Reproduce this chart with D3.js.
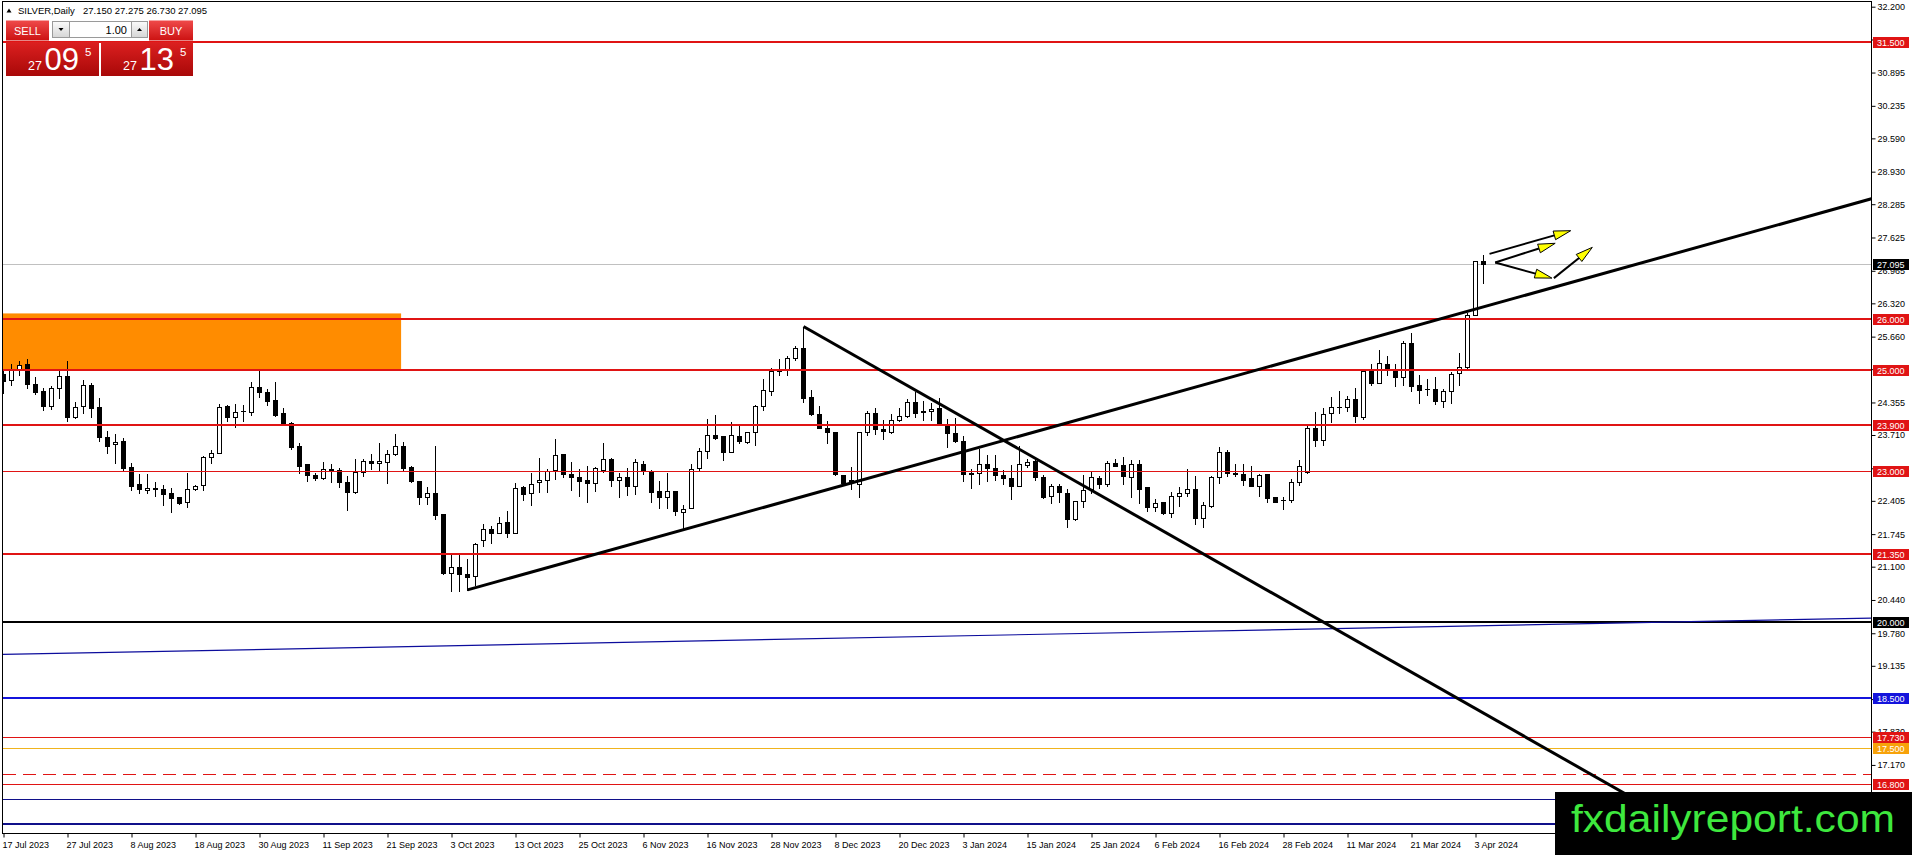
<!DOCTYPE html>
<html><head><meta charset="utf-8">
<script src="https://cdn.jsdelivr.net/npm/d3@7"></script>
<style>
html,body{margin:0;padding:0;background:#fff;overflow:hidden}
svg{display:block}
</style></head><body>
<svg id="c" width="1912" height="855"></svg>
<script>
// ---------------- DATA ----------------
const symbolName = "SILVER,Daily";
const headerOHLC = ["27.150", "27.275", "26.730", "27.095"];
const lotSize = "1.00";
const sellQuote = ["27", "09", "5"];
const buyQuote = ["27", "13", "5"];
const watermark = "fxdailyreport.com";

const opens = [24.92,24.80,25.02,25.12,24.72,24.58,24.29,24.64,24.87,24.07,24.29,24.70,24.26,23.68,23.53,23.59,23.07,22.74,22.61,22.65,
22.64,22.56,22.48,22.38,22.64,22.71,23.27,23.36,24.29,24.07,24.19,24.17,24.66,24.56,24.41,24.14,23.94,23.50,23.13,22.92,
22.86,23.03,23.01,22.77,22.58,22.97,23.20,23.15,23.18,23.34,23.50,23.07,22.80,22.48,22.57,22.14,20.98,21.10,20.95,20.92,
21.63,21.84,21.77,21.99,21.77,22.68,22.57,22.77,22.81,23.01,23.33,22.93,22.87,22.81,22.75,23.01,23.24,22.81,22.88,22.70,
23.13,22.98,22.60,22.49,22.60,22.19,22.26,23.05,23.39,23.71,23.69,23.38,23.69,23.58,23.76,24.29,24.59,24.98,24.99,25.23,
25.43,24.46,24.12,23.84,23.76,22.92,22.82,22.74,23.76,24.14,23.82,23.76,24.00,24.09,24.37,24.19,24.19,24.24,23.91,23.74,
23.60,22.95,22.95,23.13,23.05,22.92,22.85,22.70,23.11,23.20,22.87,22.50,22.70,22.56,22.04,22.41,22.64,22.85,22.74,23.15,
23.12,22.87,23.13,22.68,22.29,22.38,22.16,22.51,22.56,22.64,22.06,22.31,22.87,23.38,22.95,22.94,22.85,22.69,22.93,22.48,
22.43,22.42,22.78,22.98,23.84,23.62,24.14,24.27,24.27,24.42,24.07,24.98,24.75,25.11,24.98,24.85,25.53,24.70,24.63,24.62,
24.39,24.59,24.93,25.05,26.08,27.150];
const highs = [25.00,25.11,25.18,25.22,24.85,24.65,24.68,24.99,25.18,24.36,24.80,24.74,24.44,23.79,23.72,23.66,23.15,22.94,22.94,22.77,
22.72,22.65,22.48,22.95,22.72,23.30,23.41,24.33,24.31,24.33,24.31,24.77,24.97,24.62,24.77,24.24,23.96,23.55,23.13,22.96,
23.17,23.13,23.05,22.90,23.23,23.23,23.34,23.55,23.42,23.73,23.57,23.09,22.80,22.67,23.49,22.15,21.35,21.35,21.25,21.57,
21.94,21.90,22.09,22.20,22.75,22.70,22.95,23.26,23.03,23.64,23.33,23.17,23.03,23.09,23.07,23.55,23.26,22.95,23.05,23.23,
23.19,23.02,22.79,22.95,22.60,22.32,23.13,23.45,24.02,24.11,23.69,23.96,23.89,23.76,24.31,24.83,25.03,25.21,25.28,25.48,
25.86,24.60,24.29,23.98,23.76,22.92,23.08,23.76,24.19,24.24,24.01,24.12,24.24,24.43,24.57,24.39,24.34,24.44,24.03,24.04,
23.69,23.03,23.43,23.32,23.32,23.02,23.12,23.50,23.23,23.23,22.92,22.74,22.74,22.64,22.41,22.92,22.99,22.90,23.20,23.24,
23.27,23.22,23.22,22.68,22.44,22.38,22.58,22.68,23.03,22.89,22.39,22.89,23.47,23.42,23.14,23.13,23.10,22.94,22.93,22.48,
22.48,22.84,23.22,23.88,24.17,24.24,24.47,24.58,24.48,24.64,25.00,25.12,25.40,25.28,25.11,25.58,25.73,24.90,24.83,24.85,
24.62,24.95,25.33,26.12,27.16,27.275];
const lows = [24.55,24.70,24.89,24.65,24.52,24.21,24.23,24.45,23.98,24.04,24.14,24.07,23.60,23.35,23.16,23.00,22.61,22.57,22.57,22.50,
22.33,22.18,22.35,22.29,22.61,22.61,23.15,23.35,23.99,23.86,23.99,24.11,24.47,24.31,24.09,23.93,23.43,22.95,22.79,22.81,
22.84,22.78,22.68,22.23,22.56,22.90,23.03,23.01,22.75,23.31,23.01,22.78,22.35,22.34,22.05,20.96,20.62,20.62,20.63,20.73,
21.51,21.57,21.76,21.69,21.77,22.43,22.32,22.58,22.58,22.83,22.87,22.62,22.50,22.39,22.60,22.98,22.70,22.48,22.52,22.54,
22.93,22.39,22.27,22.26,22.13,21.86,22.26,23.02,23.25,23.63,23.22,23.38,23.55,23.55,23.51,24.21,24.50,24.90,24.89,25.20,
24.37,24.11,23.84,23.55,22.91,22.71,22.63,22.48,23.71,23.73,23.63,23.74,23.98,24.06,24.07,24.00,24.00,23.94,23.48,23.58,
22.79,22.66,22.74,22.79,22.82,22.74,22.44,22.69,23.07,22.82,22.46,22.37,22.39,21.88,22.03,22.29,22.56,22.66,22.70,23.09,
22.74,22.48,22.36,22.21,22.21,22.14,22.09,22.31,22.50,21.94,21.88,22.29,22.76,22.89,22.89,22.71,22.69,22.51,22.39,22.38,
22.24,22.38,22.72,22.96,23.50,23.51,23.96,24.14,24.19,23.96,24.02,24.70,24.75,24.90,24.68,24.70,24.59,24.35,24.50,24.33,
24.27,24.34,24.70,25.02,26.08,26.730];
const closes = [24.78,24.99,25.09,24.72,24.57,24.29,24.64,24.87,24.07,24.27,24.70,24.24,23.67,23.50,23.57,23.06,22.70,22.63,22.65,22.64,
22.54,22.46,22.36,22.64,22.69,23.27,23.35,24.26,24.07,24.16,24.18,24.66,24.57,24.39,24.11,23.93,23.48,23.10,22.91,22.85,
23.03,22.99,22.78,22.58,22.97,23.20,23.15,23.19,23.34,23.50,23.05,22.79,22.48,22.57,22.13,20.98,21.10,20.95,20.90,21.54,
21.84,21.77,21.97,21.77,22.65,22.55,22.74,22.81,22.99,23.32,22.93,22.87,22.80,22.75,23.05,23.24,22.81,22.88,22.70,23.17,
23.00,22.59,22.49,22.60,22.21,22.25,23.04,23.39,23.71,23.65,23.38,23.71,23.59,23.76,24.29,24.60,24.98,25.00,25.23,25.43,
24.44,24.12,23.84,23.76,22.93,22.75,22.77,23.76,24.14,23.83,23.78,24.00,24.09,24.37,24.14,24.19,24.22,23.94,23.74,23.60,
22.94,22.93,23.13,23.05,22.91,22.85,22.69,23.13,23.17,22.87,22.48,22.70,22.58,22.04,22.41,22.62,22.87,22.74,23.15,23.10,
22.89,23.13,22.64,22.29,22.37,22.17,22.51,22.56,22.64,22.06,22.33,22.87,23.37,22.95,22.94,22.82,22.69,22.91,22.47,22.39,
22.42,22.78,23.09,23.84,23.61,24.12,24.27,24.26,24.42,24.08,24.98,24.75,25.13,25.00,24.85,25.53,24.68,24.60,24.62,24.39,
24.59,24.92,25.05,26.09,27.15,27.095];

const xTickBars = [0,8,16,24,32,40,48,56,64,72,80,88,96,104,112,120,128,136,144,152,160,168,176,184];
const xTickLabels = ["17 Jul 2023","27 Jul 2023","8 Aug 2023","18 Aug 2023","30 Aug 2023","11 Sep 2023","21 Sep 2023",
"3 Oct 2023","13 Oct 2023","25 Oct 2023","6 Nov 2023","16 Nov 2023","28 Nov 2023","8 Dec 2023","20 Dec 2023",
"3 Jan 2024","15 Jan 2024","25 Jan 2024","6 Feb 2024","16 Feb 2024","28 Feb 2024","11 Mar 2024","21 Mar 2024","3 Apr 2024"];
const yTickValues = [32.200,31.550,30.895,30.235,29.590,28.930,28.285,27.625,26.965,26.320,25.660,25.015,24.355,23.710,
23.050,22.405,21.745,21.100,20.440,19.780,19.135,18.475,17.830,17.170];

const levelValues = [31.5, 26.0, 25.0, 23.9, 23.0, 21.35, 20.0, 18.5, 17.73, 17.5, 17.0, 16.8, 16.49, 16.0];
const currentPrice = 27.095;
const zoneBars = [-6, 49.7];
const zonePrices = [25.0, 26.12];
const upTrend = [[58, 20.64], [185, 26.25]];
const downTrend = [[100, 25.86], [160, 20.45]];
const blueTrend = [[0, 19.36], [233.5, 20.08]];
const arrowLines = [
  [[185.75, 27.30], [195.9, 27.76]],
  [[186.46, 27.13], [193.96, 27.51]],
  [[186.46, 27.13], [193.55, 26.82]],
  [[193.8, 26.82], [198.6, 27.43]]
];

// ---------------- STYLES ----------------
const RED = "#e01414", BLUE = "#1414dc", NAVY = "#10108a", GOLD = "#f0b41e";
const levelStyles = [
  {c: RED, w: 2, box: RED}, {c: RED, w: 2, box: RED}, {c: RED, w: 2, box: RED}, {c: RED, w: 2, box: RED},
  {c: RED, w: 1, box: RED}, {c: RED, w: 2, box: RED}, {c: "#000", w: 2, box: "#000"}, {c: BLUE, w: 2, box: BLUE},
  {c: RED, w: 1, box: RED}, {c: GOLD, w: 1, box: "#f7a20a"}, {c: RED, w: 1, dash: "13,7"}, {c: RED, w: 1, box: RED},
  {c: NAVY, w: 1}, {c: NAVY, w: 2}
];
const FONT = "'Liberation Sans', Arial, sans-serif";

// ---------------- SETUP ----------------
const W = 1912, H = 855;
const L = 3, T = 2, R = 1871, B = 833;
const svg = d3.select("#c");
const x = d3.scaleLinear().domain([0, 185]).range([3.5, 3.5 + 8 * 185]);
const y = d3.scaleLinear().domain([32.2, 16.8]).range([6.7, 783.6]);
const crisp = (v, w) => (w % 2 === 1 ? Math.round(v) + 0.5 : Math.round(v));

svg.append("rect").attr("width", W).attr("height", H).attr("fill", "#fff");
const defs = svg.append("defs");
defs.append("clipPath").attr("id", "plot").append("rect").attr("x", L).attr("y", T).attr("width", R - L).attr("height", B - T);
const grad = (id, a, b) => {
  const g = defs.append("linearGradient").attr("id", id).attr("x1", 0).attr("y1", 0).attr("x2", 0).attr("y2", 1);
  g.append("stop").attr("offset", "0%").attr("stop-color", a);
  g.append("stop").attr("offset", "100%").attr("stop-color", b);
};
grad("gBtn", "#ef4a4a", "#cc1212");
grad("gBig", "#dc2020", "#a80808");
grad("gGrey", "#fbfbfb", "#d6d6d6");

const plot = svg.append("g").attr("clip-path", "url(#plot)");

// zone rectangle
plot.append("rect")
  .attr("x", x(zoneBars[0])).attr("width", x(zoneBars[1]) - x(zoneBars[0]))
  .attr("y", y(zonePrices[1])).attr("height", y(zonePrices[0]) - y(zonePrices[1]))
  .attr("fill", "#ff8c00");

// current price line
plot.append("line").attr("x1", L).attr("x2", R)
  .attr("y1", crisp(y(currentPrice), 1)).attr("y2", crisp(y(currentPrice), 1))
  .attr("stroke", "#c0c0c0").attr("stroke-width", 1);

// candles
const bars = d3.range(closes.length).map(i => ({i, o: opens[i], h: highs[i], l: lows[i], c: closes[i]}));
const cg = plot.append("g");
cg.selectAll("line.wick").data(bars).join("line")
  .attr("x1", d => x(d.i)).attr("x2", d => x(d.i))
  .attr("y1", d => Math.round(y(d.h))).attr("y2", d => Math.round(y(d.l)) + 1)
  .attr("stroke", "#000").attr("stroke-width", 1);
cg.selectAll("rect.body").data(bars).join("rect")
  .each(function(d) {
    const up = d.c >= d.o;
    const top = Math.round(y(Math.max(d.o, d.c)));
    const bot = Math.round(y(Math.min(d.o, d.c)));
    const r = d3.select(this);
    if (up) {
      r.attr("x", x(d.i) - 2).attr("width", 4).attr("y", top + 0.5).attr("height", Math.max(bot - top, 1))
        .attr("fill", "#fff").attr("stroke", "#000").attr("stroke-width", 1);
    } else {
      r.attr("x", x(d.i) - 2.5).attr("width", 5).attr("y", top).attr("height", Math.max(bot - top + 1, 1))
        .attr("fill", "#000");
    }
  });

// horizontal levels
levelValues.forEach((v, i) => {
  const s = levelStyles[i];
  const yy = crisp(y(v), s.w);
  plot.append("line").attr("x1", L).attr("x2", R).attr("y1", yy).attr("y2", yy)
    .attr("stroke", s.c).attr("stroke-width", s.w).attr("stroke-dasharray", s.dash || null);
});

// trend lines
const kL = x.invert(L - 2), kR = x.invert(R + 2);
const at = (pts, k) => pts[0][1] + (pts[1][1] - pts[0][1]) * (k - pts[0][0]) / (pts[1][0] - pts[0][0]);
const seg = (pts, k1, k2, col, w) => plot.append("line")
  .attr("x1", x(k1)).attr("y1", y(at(pts, k1))).attr("x2", x(k2)).attr("y2", y(at(pts, k2)))
  .attr("stroke", col).attr("stroke-width", w);
seg(blueTrend, kL, kR, "#0c0c9c", 1.2);
seg(upTrend, upTrend[0][0], kR, "#000", 3);
seg(downTrend, downTrend[0][0], kR, "#000", 3);

// arrows
arrowLines.forEach(([a, b]) => {
  const x1 = x(a[0]), y1 = y(a[1]), x2 = x(b[0]), y2 = y(b[1]);
  const len = Math.hypot(x2 - x1, y2 - y1), ux = (x2 - x1) / len, uy = (y2 - y1) / len;
  const hl = 17, hw = 4.5;
  const bx = x2 - ux * hl, by = y2 - uy * hl;
  plot.append("line").attr("x1", x1).attr("y1", y1).attr("x2", bx).attr("y2", by)
    .attr("stroke", "#000").attr("stroke-width", 2);
  plot.append("path")
    .attr("d", `M${x2},${y2}L${bx - uy * hw},${by + ux * hw}L${bx + uy * hw},${by - ux * hw}Z`)
    .attr("fill", "#ffff00").attr("stroke", "#000").attr("stroke-width", 1).attr("stroke-linejoin", "round");
});

// frame
svg.append("rect").attr("x", L - 0.5).attr("y", T - 0.5).attr("width", R - L + 1).attr("height", B - T + 1)
  .attr("fill", "none").attr("stroke", "#000").attr("stroke-width", 1);

// y axis
const gy = svg.append("g").attr("transform", `translate(${R + 0.5},0)`)
  .call(d3.axisRight(y).tickValues(yTickValues).tickFormat(d3.format(".3f")).tickSize(4).tickPadding(2));
gy.select(".domain").remove();
gy.attr("font-family", FONT).attr("font-size", 9);
gy.selectAll("text").attr("fill", "#000");
gy.selectAll("line").attr("stroke", "#000");

// x axis
const gx = svg.append("g").attr("transform", `translate(0,${B + 0.5})`)
  .call(d3.axisBottom(x).tickValues(xTickBars).tickFormat((d, i) => xTickLabels[i]).tickSize(4).tickPadding(4));
gx.select(".domain").remove();
gx.attr("font-family", FONT).attr("font-size", 9).attr("text-anchor", "start");
gx.selectAll("text").attr("x", -1.5).attr("fill", "#000");
gx.selectAll("line").attr("stroke", "#000");

// level labels on the axis
const boxG = svg.append("g");
levelValues.forEach((v, i) => {
  const s = levelStyles[i];
  if (!s.box) return;
  const yy = Math.round(y(v));
  boxG.append("rect").attr("x", R + 2).attr("y", yy - 5).attr("width", 36).attr("height", 11).attr("fill", s.box);
  boxG.append("text").attr("x", R + 6).attr("y", yy + 3.5).attr("font-family", FONT).attr("font-size", 9)
    .attr("fill", "#fff").text(d3.format(".3f")(v));
});
{
  const yy = Math.round(y(currentPrice));
  boxG.append("rect").attr("x", R + 2).attr("y", yy - 5).attr("width", 36).attr("height", 11).attr("fill", "#000");
  boxG.append("text").attr("x", R + 6).attr("y", yy + 3.5).attr("font-family", FONT).attr("font-size", 9)
    .attr("fill", "#fff").text(d3.format(".3f")(currentPrice));
}

// header text
const hdr = svg.append("g").attr("font-family", FONT).attr("font-size", 9.5).attr("fill", "#000");
hdr.append("path").attr("d", "M6.5,12.5L9,8.5L11.5,12.5Z").attr("fill", "#000");
hdr.append("text").attr("x", 18).attr("y", 14).text(symbolName);
hdr.append("text").attr("x", 83).attr("y", 14).text(headerOHLC.join(" "));

// one-click trading panel
const pn = svg.append("g").attr("font-family", FONT);
pn.append("rect").attr("x", 6).attr("y", 20.5).attr("width", 43).attr("height", 20).attr("fill", "url(#gBtn)");
pn.append("text").attr("x", 27.5).attr("y", 35).attr("text-anchor", "middle").attr("font-size", 11).attr("fill", "#fff").text("SELL");
pn.append("rect").attr("x", 149).attr("y", 20.5).attr("width", 44).attr("height", 20).attr("fill", "url(#gBtn)");
pn.append("text").attr("x", 171).attr("y", 35).attr("text-anchor", "middle").attr("font-size", 11).attr("fill", "#fff").text("BUY");
pn.append("rect").attr("x", 52.5).attr("y", 21.5).attr("width", 17).attr("height", 16).attr("fill", "url(#gGrey)").attr("stroke", "#9a9a9a");
pn.append("path").attr("d", "M58.5,28L63.5,28L61,31Z").attr("fill", "#000");
pn.append("rect").attr("x", 69.5).attr("y", 21.5).attr("width", 62).attr("height", 16).attr("fill", "#fff").attr("stroke", "#9a9a9a");
pn.append("text").attr("x", 127).attr("y", 34).attr("text-anchor", "end").attr("font-size", 11).attr("fill", "#000").text(lotSize);
pn.append("rect").attr("x", 131.5).attr("y", 21.5).attr("width", 16).attr("height", 16).attr("fill", "url(#gGrey)").attr("stroke", "#9a9a9a");
pn.append("path").attr("d", "M137,31L142,31L139.5,28Z").attr("fill", "#000");
const quote = (x0, w, q) => {
  pn.append("rect").attr("x", x0).attr("y", 42).attr("width", w).attr("height", 34).attr("fill", "url(#gBig)");
  pn.append("text").attr("x", x0 + 22).attr("y", 70).attr("font-size", 12.5).attr("fill", "#fff").text(q[0]);
  pn.append("text").attr("x", x0 + 38.5).attr("y", 70).attr("font-size", 31).attr("fill", "#fff").text(q[1]);
  pn.append("text").attr("x", x0 + 79).attr("y", 55.5).attr("font-size", 11.5).attr("fill", "#fff").text(q[2]);
};
quote(6, 93, sellQuote);
quote(101, 92, buyQuote);

// watermark
svg.append("rect").attr("x", 1555).attr("y", 792).attr("width", W - 1555).attr("height", H - 792).attr("fill", "#000");
svg.append("text").attr("x", 1571).attr("y", 832).attr("font-family", FONT).attr("font-size", 38)
  .attr("textLength", 324).attr("lengthAdjust", "spacingAndGlyphs").attr("fill", "#3ee83e").text(watermark);
</script>
</body></html>
